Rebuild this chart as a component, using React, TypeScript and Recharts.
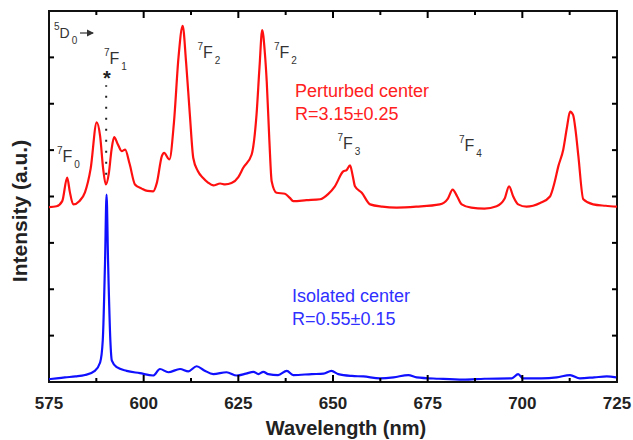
import React from 'react';
import { LineChart, Line, XAxis, YAxis, ReferenceArea, ReferenceLine } from 'recharts';

// Red: perturbed center spectrum (wavelength nm / intensity a.u.)
const redWavelengths = [
  575, 577, 578.5, 579.8, 580.5, 581.4, 583, 584.5, 586, 587.6, 588.5, 589.3, 590, 590.8, 591.5,
  592.2, 593.2, 594.2, 595.1, 596.3, 597.7, 599.5, 601, 602.5, 603.5, 604.8, 605.4, 606.8, 608,
  609.2, 610.3, 611.2, 612.2, 613.1, 614.3, 615.7, 617, 618.4, 620.2, 621.5, 623.2, 625, 626.3,
  628.5, 629.8, 630.6, 631.3, 632, 632.5, 633.2, 633.8, 635.1, 637.3, 638.6, 639.5, 643, 646.6,
  648.7, 650.5, 652.7, 653.6, 654.5, 655.2, 655.8, 657.6, 659.8, 663, 666.8, 672, 678.2, 680.3,
  681.6, 682.8, 684, 686.5, 690, 693.2, 695.3, 696.5, 697.6, 698.9, 701.1, 704.7, 707.3, 708.5,
  709.5, 710.8, 711.8, 712.6, 713.4, 714.1, 714.8, 716.1, 718.7, 722, 725,
];
const redIntensity = [
  3.77, 3.79, 3.9, 4.41, 4.1, 3.83, 3.9, 4.09, 4.6, 5.6, 5.3, 4.6, 4.26, 4.5, 5.0,
  5.28, 5.12, 4.98, 5.01, 4.7, 4.26, 4.17, 4.12, 4.11, 4.3, 4.87, 4.94, 4.8, 5.6,
  7.0, 7.68, 6.9, 5.76, 4.83, 4.55, 4.4, 4.3, 4.24, 4.28, 4.26, 4.29, 4.42, 4.62,
  4.9, 5.76, 6.8, 7.59, 7.1, 6.48, 5.2, 4.33, 4.08, 4.06, 3.97, 3.9, 3.92, 3.94,
  4.05, 4.22, 4.54, 4.57, 4.67, 4.45, 4.22, 4.08, 3.83, 3.78, 3.76, 3.78, 3.83, 3.95,
  4.15, 4.0, 3.83, 3.76, 3.74, 3.79, 3.95, 4.22, 4.0, 3.83, 3.78, 3.86, 4.0, 4.3,
  4.65, 5.01, 5.5, 5.83, 5.76, 5.4, 4.87, 3.94, 3.83, 3.8, 3.78,
];

// Blue: isolated center spectrum
const blueWavelengths = [
  575, 577, 579.2, 582, 584.5, 587.1, 588.5, 589.2, 589.8, 590.2, 590.6, 591.2, 591.6, 592.9,
  595.5, 599, 602.5, 604.3, 606.5, 609.6, 611.8, 614, 616, 618.4, 621.9, 624.6, 627, 629,
  630.3, 631.6, 632.9, 635.5, 637.8, 639.5, 644.4, 647.5, 649.6, 651.4, 655, 658, 662.4, 666,
  669.9, 672.1, 678, 684.4, 690, 697.2, 698.9, 700.2, 705, 709.1, 712.6, 715.2, 719, 722.3, 724.8,
];
const blueIntensity = [
  0.06, 0.08, 0.1, 0.12, 0.15, 0.24, 0.42, 0.9, 2.6, 4.04, 2.6, 0.9, 0.46, 0.32,
  0.24, 0.19, 0.14, 0.28, 0.21, 0.28, 0.23, 0.34, 0.25, 0.17, 0.21, 0.14, 0.18, 0.22,
  0.17, 0.22, 0.17, 0.15, 0.24, 0.15, 0.17, 0.18, 0.24, 0.17, 0.13, 0.12, 0.08, 0.1,
  0.15, 0.1, 0.07, 0.05, 0.07, 0.08, 0.17, 0.08, 0.08, 0.1, 0.15, 0.08, 0.1, 0.12, 0.1,
];

const xTicks = [575, 587.5, 600, 612.5, 625, 637.5, 650, 662.5, 675, 687.5, 700, 712.5, 725];
const yTicks = [0, 1, 2, 3, 4, 5, 6, 7, 8];

const W = 633;
const H = 440;
const M = { top: 11, right: 16, bottom: 28, left: 19 };
const PLOT_TOP = M.top;
const PLOT_RIGHT = W - M.right;
const FONT = '"Liberation Sans", Arial, sans-serif';

const redData = redWavelengths.map((x, i) => ({ x, y: redIntensity[i] }));
const blueData = blueWavelengths.map((x, i) => ({ x, y: blueIntensity[i] }));

const XTick = ({ x, y, payload }: any) => {
  const major = payload.value % 25 === 0;
  const len = major ? 7 : 4;
  const edge = payload.value === 575 || payload.value === 725;
  return (
    <g>
      {!edge && <line x1={x} y1={y} x2={x} y2={y - len} stroke="#000" strokeWidth={2} />}
      {!edge && <line x1={x} y1={PLOT_TOP} x2={x} y2={PLOT_TOP + len} stroke="#000" strokeWidth={2} />}
      {major && (
        <text x={x} y={y + 26.5} textAnchor="middle" fontFamily={FONT} fontWeight="bold" fontSize={17} fill="#222">
          {payload.value}
        </text>
      )}
    </g>
  );
};

const YTick = ({ x, y, payload }: any) => {
  if (payload.value === 0 || payload.value === 8) return <g />;
  return (
    <g>
      <line x1={x} y1={y} x2={x + 5} y2={y} stroke="#000" strokeWidth={2} />
      <line x1={PLOT_RIGHT - 5} y1={y} x2={PLOT_RIGHT} y2={y} stroke="#000" strokeWidth={2} />
    </g>
  );
};

// level label like 7F2 with superscript and subscript
const Term = ({ x, y, sup, main, sub, size = 16 }: any) => (
  <text x={x} y={y} fontFamily={FONT} fill="#333">
    <tspan fontSize={10} dy={-8}>{sup}</tspan>
    <tspan fontSize={size} dy={8}>{main}</tspan>
    <tspan fontSize={10} dx={2} dy={6}>{sub}</tspan>
  </text>
);

export default function App() {
  return (
    <div style={{ position: 'absolute', left: 0, top: 0, width: W, height: H, background: '#fff' }}>
      <LineChart width={W} height={H} margin={M}>
        <XAxis
          dataKey="x"
          type="number"
          domain={[575, 725]}
          ticks={xTicks}
          interval={0}
          height={30}
          axisLine={false}
          tickLine={false}
          tickSize={0}
          tickMargin={0}
          tick={<XTick />}
          allowDataOverflow
        />
        <YAxis
          type="number"
          domain={[0, 8]}
          ticks={yTicks}
          interval={0}
          width={30}
          axisLine={false}
          tickLine={false}
          tickSize={0}
          tickMargin={0}
          tick={<YTick />}
          allowDataOverflow
        />
        <ReferenceLine
          segment={[{ x: 590.1, y: 4.47 }, { x: 590.1, y: 6.4 }]}
          stroke="#222"
          strokeWidth={2}
          strokeDasharray="2 9"
        />
        <Line data={redData} dataKey="y" type="monotone" stroke="#ff1010" strokeWidth={2.2} dot={false} isAnimationActive={false} />
        <Line data={blueData} dataKey="y" type="monotone" stroke="#1010ff" strokeWidth={2.2} dot={false} isAnimationActive={false} />
        <ReferenceArea x1={575} x2={725} y1={0} y2={8} fill="none" stroke="#111" strokeWidth={2} ifOverflow="visible" />
      </LineChart>
      <svg width={W} height={H} style={{ position: 'absolute', left: 0, top: 0, pointerEvents: 'none' }}>
        <defs>
          <marker id="arr" markerWidth="6" markerHeight="6" refX="5" refY="3" orient="auto">
            <path d="M0,0 L6,3 L0,6 z" fill="#333" />
          </marker>
        </defs>
        <Term x={54} y={38} sup="5" main="D" sub="0" size={14} />
        <line x1={80} y1={33} x2={93} y2={33} stroke="#333" strokeWidth={1.2} markerEnd="url(#arr)" />
        <Term x={104} y={64} sup="7" main="F" sub="1" />
        <text x={107} y={85} textAnchor="middle" fontFamily={FONT} fontWeight="bold" fontSize={20} fill="#222">*</text>
        <Term x={57} y={162} sup="7" main="F" sub="0" />
        <Term x={197.5} y={57.5} sup="7" main="F" sub="2" />
        <Term x={274} y={57.5} sup="7" main="F" sub="2" />
        <Term x={337.5} y={149} sup="7" main="F" sub="3" />
        <Term x={459} y={151} sup="7" main="F" sub="4" />
        <text x={295} y={96.5} fontFamily={FONT} fontSize={18} fill="#ff2020">Perturbed center</text>
        <text x={295} y={120} fontFamily={FONT} fontSize={18} fill="#ff2020">R=3.15±0.25</text>
        <text x={292} y={301.5} fontFamily={FONT} fontSize={18} fill="#3030ff">Isolated center</text>
        <text x={292} y={325} fontFamily={FONT} fontSize={18} fill="#3030ff">R=0.55±0.15</text>
        <text x={346} y={435} textAnchor="middle" fontFamily={FONT} fontWeight="bold" fontSize={20} fill="#222">
          Wavelength (nm)
        </text>
        <text transform="translate(27,211) rotate(-90)" textAnchor="middle" fontFamily={FONT} fontWeight="bold" fontSize={21} fill="#222">
          Intensity (a.u.)
        </text>
      </svg>
    </div>
  );
}
